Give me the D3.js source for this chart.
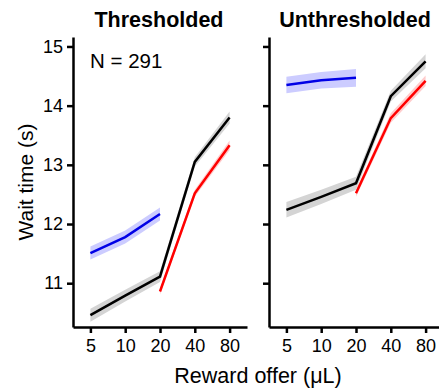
<!DOCTYPE html>
<html>
<head>
<meta charset="utf-8">
<script src="https://cdn.jsdelivr.net/npm/d3@7"></script>
<style>
  body { margin: 0; background: #fff; }
  text { font-family: "Liberation Sans", Arial, sans-serif; fill: #000; }
  .axis path, .axis line { stroke: #000; stroke-width: 2.5px; }
</style>
</head>
<body>
<svg width="439" height="390"></svg>
<script>
// reward offers (uL) on the x axis
var offers = ["5", "10", "20", "40", "80"];
var yTicks = [11, 12, 13, 14, 15];
var panelTitles = ["Thresholded", "Unthresholded"];

// thresholded panel
var thrBlueMean = [11.51, 11.78, 12.17];
var thrBlueErr = [0.11, 0.11, 0.11];
var thrBlackMean = [10.46, 10.79, 11.11, 13.05, 13.80];
var thrBlackErr = [0.11, 0.10, 0.09, 0.08, 0.10];
var thrRedMean = [10.86, 12.52, 13.33];
var thrRedErr = [0.05, 0.06, 0.08];

// unthresholded panel
var unBlueMean = [14.35, 14.43, 14.47];
var unBlueErr = [0.14, 0.14, 0.15];
var unBlackMean = [12.24, 12.46, 12.69, 14.16, 14.75];
var unBlackErr = [0.13, 0.12, 0.11, 0.09, 0.12];
var unRedMean = [12.52, 13.79, 14.42];
var unRedErr = [0.06, 0.08, 0.09];

var lowOffers = offers.slice(0, 3);
var highOffers = offers.slice(2);

function series(xs, mean, err, color, band) {
    var s = xs.map(function (x, i) { return { x: x, y: mean[i], e: err[i] }; });
    s.color = color;
    s.band = band;
    return s;
}

var panels = [
    {
        title: panelTitles[0], left: 73, right: 247, labels: true,
        lines: [
            series(lowOffers, thrBlueMean, thrBlueErr, "#0000e6", "#ccccff"),
            series(offers, thrBlackMean, thrBlackErr, "#000", "#d4d4d4"),
            series(highOffers, thrRedMean, thrRedErr, "#ff0000", "#ffcccc")
        ]
    },
    {
        title: panelTitles[1], left: 269, right: 443, labels: false,
        lines: [
            series(lowOffers, unBlueMean, unBlueErr, "#0000e6", "#ccccff"),
            series(offers, unBlackMean, unBlackErr, "#000", "#d4d4d4"),
            series(highOffers, unRedMean, unRedErr, "#ff0000", "#ffcccc")
        ]
    }
];

var svg = d3.select("svg"),
    plotTop = 37, plotBottom = 327;

var y = d3.scaleLinear().domain([10.26, 15.16]).range([plotBottom, plotTop]);

panels.forEach(function (p) {
    var x = d3.scalePoint().domain(offers).range([p.left, p.right]).padding(0.5);
    var g = svg.append("g");

    var area = d3.area()
        .x(function (d) { return x(d.x); })
        .y0(function (d) { return y(d.y - d.e); })
        .y1(function (d) { return y(d.y + d.e); });
    var line = d3.line()
        .x(function (d) { return x(d.x); })
        .y(function (d) { return y(d.y); });

    g.selectAll(".band")
        .data(p.lines)
        .enter().append("path")
        .attr("class", "band")
        .attr("d", area)
        .attr("fill", function (d) { return d.band; });

    g.selectAll(".line")
        .data(p.lines)
        .enter().append("path")
        .attr("class", "line")
        .attr("d", line)
        .attr("fill", "none")
        .attr("stroke", function (d) { return d.color; })
        .attr("stroke-width", 2.5);

    g.append("g")
        .attr("class", "axis")
        .attr("transform", "translate(0," + plotBottom + ")")
        .call(d3.axisBottom(x).tickSize(6).tickPadding(6).tickSizeOuter(0))
        .attr("font-family", null)
        .attr("font-size", 18);

    var yAxis = d3.axisLeft(y).tickValues(yTicks).tickFormat(d3.format("d"))
        .tickSize(6).tickPadding(4).tickSizeOuter(0);
    if (!p.labels) yAxis.tickFormat("");
    g.append("g")
        .attr("class", "axis")
        .attr("transform", "translate(" + p.left + ",0)")
        .call(yAxis)
        .attr("font-family", null)
        .attr("font-size", 18);

    g.append("text")
        .attr("x", (p.left + p.right) / 2 - 1)
        .attr("y", 27)
        .attr("text-anchor", "middle")
        .style("font-size", "21.5px")
        .style("font-weight", "bold")
        .text(p.title);
});

svg.append("text")
    .attr("x", 90)
    .attr("y", 68)
    .style("font-size", "20.5px")
    .text("N = 291");

svg.append("text")
    .attr("transform", "translate(33,182) rotate(-90)")
    .attr("text-anchor", "middle")
    .style("font-size", "21px")
    .text("Wait time (s)");

svg.append("text")
    .attr("x", 258)
    .attr("y", 383)
    .attr("text-anchor", "middle")
    .style("font-size", "21.5px")
    .text("Reward offer (\u03bcL)");
</script>
</body>
</html>
